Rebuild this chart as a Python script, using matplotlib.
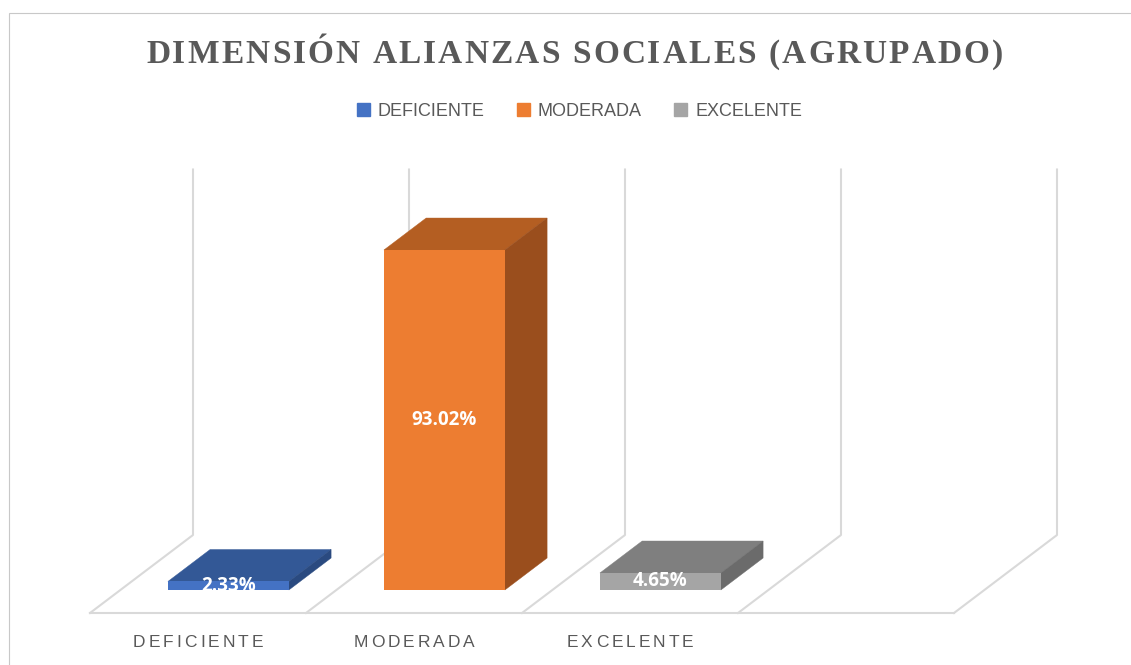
import matplotlib
matplotlib.use('Agg')
import matplotlib.pyplot as plt
from matplotlib.patches import Polygon, Rectangle, Patch
from matplotlib.transforms import IdentityTransform

# data
categories = ['DEFICIENTE', 'MODERADA', 'EXCELENTE']
values = [2.33, 93.02, 4.65]
value_labels = ['2.33%', '93.02%', '4.65%']
front_colors = ['#4472C4', '#ED7D31', '#A5A5A5']
top_colors = ['#335896', '#B45E22', '#7F7F7F']
side_colors = ['#2A4A80', '#9A4E1D', '#6B6B6B']
n_slots = 4      # excel left an empty 4th slot on the category axis
y_max = 100
title = 'DIMENSIÓN ALIANZAS SOCIALES (AGRUPADO)'

W, H = 1131, 665
fig = plt.figure(figsize=(W / 100, H / 100), dpi=100)
ax = fig.add_axes([0, 0, 1, 1])
ax.axis('off')

# map data units onto the picture: front-left floor corner, slot width, 1% height
x0_px, y0_px = 90, 613
slot_px, unit_px = 216, 3.655
ax.set_xlim(-x0_px / slot_px, (W - x0_px) / slot_px)
ax.set_ylim(-(H - y0_px) / unit_px, y0_px / unit_px)

# oblique depth of the floor, and where the bars sit inside it
DX, DY = 103 / slot_px, 78 / unit_px
f0, f1 = 0.295, 0.705
bw = 0.56

grid = '#D9D9D9'
ax.plot([0, n_slots], [0, 0], color=grid, lw=1.5, zorder=1)
for k in range(n_slots + 1):
    ax.plot([k, k + DX, k + DX], [0, DY, DY + y_max], color=grid, lw=1.5, zorder=1)

# 3d-ish bars: front face is a normal bar, top and side are sheared copies
xs = [i + 0.5 + f0 * DX for i in range(len(values))]
base = f0 * DY
ax.bar(xs, values, width=bw, bottom=base, color=front_colors, lw=0, zorder=3)
ddx, ddy = (f1 - f0) * DX, (f1 - f0) * DY
for x, v, tc, sc in zip(xs, values, top_colors, side_colors):
    xl, xr, t = x - bw / 2, x + bw / 2, base + v
    ax.add_patch(Polygon([(xl, t), (xr, t), (xr + ddx, t + ddy), (xl + ddx, t + ddy)],
                         closed=True, fc=tc, ec=tc, lw=0.3, zorder=2))
    ax.add_patch(Polygon([(xr, base), (xr, t), (xr + ddx, t + ddy), (xr + ddx, base + ddy)],
                         closed=True, fc=sc, ec=sc, lw=0.3, zorder=2))

clip = Rectangle((-5, base), 20, 500, transform=ax.transData)
for x, v, lab in zip(xs, values, value_labels):
    t = ax.text(x, base + v / 2, lab, ha='center', va='center', color='white',
                fontsize=13.5, fontweight='bold', family='Open Sans', zorder=5)
    t.set_clip_path(clip)


def spaced_text(s, xc, y, width=None, track=0, **kw):
    # matplotlib has no letter-spacing, so place chars one by one (pixel coords)
    r = fig.canvas.get_renderer()

    def w(txt):
        tt = fig.text(0, 0, txt, transform=IdentityTransform(), **kw)
        e = tt.get_window_extent(r).width
        tt.remove()
        return e
    bar = w('||')
    ws = [w('|' + c + '|') - bar for c in s]
    if width is not None:
        track = (width - sum(ws)) / (len(s) - 1)
    x = xc - (sum(ws) + track * (len(s) - 1)) / 2
    for c, cw in zip(s, ws):
        fig.text(x, y, c, transform=IdentityTransform(), ha='left', va='baseline', **kw)
        x += cw + track


spaced_text(title, 574.5, H - 63, width=857, family='Liberation Serif',
            fontweight='bold', fontsize=24, color='#595959')

for i, c in enumerate(categories):
    px = ax.transData.transform((i + 0.5, 0))[0]
    spaced_text(c, px, H - 647, track=3.0, family='Liberation Sans',
                fontsize=12.5, color='#595959')

handles = [Patch(color=fc, label=c) for fc, c in zip(front_colors, categories)]
fig.legend(handles=handles, loc='center', bbox_to_anchor=(579.5 / W, 1 - 111 / H),
           ncol=3, frameon=False, handlelength=0.7, handleheight=0.7,
           handletextpad=0.45, columnspacing=1.8, labelcolor='#595959',
           prop={'family': 'Liberation Sans', 'size': 13})

# thin chart-area border (right/bottom edges fall outside the crop)
fig.add_artist(Rectangle((8.5 / W, -0.1), 2, (H - 12.5) / H + 0.1, transform=fig.transFigure,
                         fill=False, ec='#C8C8C8', lw=0.8))

fig.savefig('out.png', dpi=100, facecolor='white')
